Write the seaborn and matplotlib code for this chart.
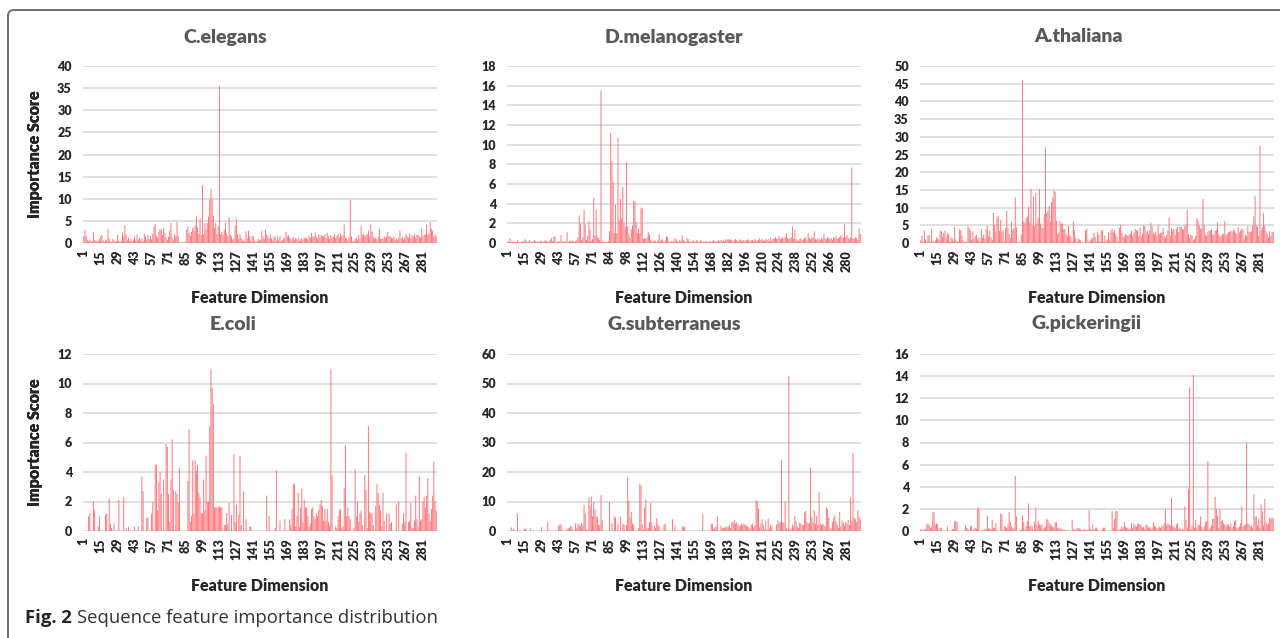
import numpy as np
import pandas as pd
import matplotlib.pyplot as plt
import seaborn as sns
from matplotlib.patches import FancyBboxPatch

# species shown in each panel (row by row)
titles = ["C.elegans", "D.melanogaster", "A.thaliana",
          "E.coli", "G.subterraneus", "G.pickeringii"]

# importance score per feature dimension, 14 dimensions per line
celegans = [
    1.5, 2.9, 1.6, 0.6, 0.4, 0.8, 0.5, 0.3, 2.4, 0.7, 0.4, 0.6, 0.5, 0.9,
    1.5, 1.8, 0.6, 0.3, 0.8, 0.5, 3.1, 1.0, 0.4, 0.2, 0.9, 0.6, 0.3, 0.5,
    1.9, 0.5, 0.3, 0.4, 2.3, 1.5, 4.0, 1.8, 0.6, 1.2, 0.5, 0.9, 0.4, 0.8,
    1.5, 0.6, 1.9, 0.8, 1.2, 0.5, 1.0, 0.4, 2.0, 1.4, 0.6, 1.8, 0.9, 1.6,
    0.8, 2.0, 3.7, 4.2, 1.6, 1.2, 2.5, 3.2, 3.0, 1.8, 3.4, 2.2, 1.3, 0.7,
    1.4, 2.8, 4.5, 1.2, 0.6, 2.0, 1.5, 4.8, 1.7, 0.1, 0.1, 0.2, 0.1, 0.1,
    0.2, 3.0, 3.8, 2.2, 1.6, 2.5, 3.5, 2.8, 4.0, 6.0, 3.5, 2.0, 5.5, 1.8,
    13.0, 2.0, 4.5, 3.0, 4.5, 6.0, 9.8, 12.3, 10.0, 6.2, 3.5, 4.5, 2.0, 3.8,
    35.5, 2.0, 2.5, 1.8, 3.0, 4.5, 2.2, 1.5, 5.8, 1.8, 1.5, 0.8, 1.2, 4.0,
    5.5, 2.0, 1.0, 2.0, 1.2, 0.5, 0.8, 0.4, 2.7, 1.0, 2.8, 1.5, 0.6, 1.6,
    1.5, 0.5, 0.2, 0.4, 1.0, 0.6, 0.8, 2.8, 1.5, 1.0, 3.0, 2.0, 1.5, 1.0,
    2.0, 1.0, 0.6, 1.5, 1.2, 0.5, 1.5, 0.8, 1.6, 0.4, 0.7, 1.2, 0.9, 2.5,
    1.5, 1.8, 1.2, 0.8, 1.0, 1.4, 0.6, 1.2, 0.8, 1.3, 0.5, 0.9, 1.1, 0.7,
    1.2, 1.0, 1.3, 0.9, 1.6, 1.2, 2.3, 1.4, 1.5, 2.3, 1.5, 1.0, 2.0, 1.2,
    1.8, 1.6, 1.5, 2.0, 1.2, 2.3, 1.5, 0.9, 1.8, 1.2, 1.5, 2.0, 1.1, 1.6,
    2.0, 1.3, 2.2, 1.5, 1.8, 4.2, 1.2, 1.0, 0.6, 1.4, 9.8, 1.5, 0.5, 0.3,
    1.0, 1.2, 0.6, 1.8, 1.0, 3.8, 1.8, 2.0, 1.6, 1.8, 2.0, 2.8, 1.5, 4.2,
    2.5, 1.5, 1.0, 1.2, 0.8, 1.4, 3.2, 1.0, 0.9, 1.0, 1.5, 1.2, 1.6, 2.5,
    1.5, 1.5, 1.2, 1.0, 1.4, 0.8, 1.0, 0.6, 1.2, 2.8, 1.0, 1.5, 0.8, 1.2,
    2.0, 1.5, 1.2, 2.2, 1.0, 1.8, 1.5, 2.0, 1.2, 1.8, 1.8, 1.5, 1.2, 3.3,
    1.5, 1.8, 2.0, 4.2, 1.8, 2.2, 4.7, 3.2, 2.8, 1.5, 2.0, 1.5,
]

dmelanogaster = [
    0.1, 0.2, 0.5, 0.1, 0.1, 0.2, 0.1, 0.1, 0.3, 0.1, 0.1, 0.1, 0.2, 0.1,
    0.4, 0.3, 0.1, 0.1, 0.3, 0.1, 0.2, 0.1, 0.3, 0.2, 0.1, 0.2, 0.1, 0.2,
    0.2, 0.1, 0.2, 0.3, 0.2, 0.1, 0.2, 0.3, 0.5, 0.2, 0.6, 0.7, 0.1, 0.2,
    0.1, 0.2, 0.8, 0.1, 0.2, 0.1, 0.2, 1.1, 0.1, 0.2, 0.2, 0.3, 0.2, 0.1,
    0.2, 0.3, 0.6, 2.8, 1.9, 0.3, 0.5, 3.4, 1.9, 0.3, 0.7, 2.2, 1.3, 0.2,
    0.4, 4.6, 0.8, 3.4, 0.6, 0.5, 0.3, 15.5, 0.2, 0.1, 0.1, 0.1, 0.1, 0.2,
    1.2, 11.2, 8.3, 6.2, 1.0, 3.9, 1.0, 10.7, 2.3, 4.5, 2.5, 5.7, 2.0, 1.6,
    8.2, 1.7, 0.9, 0.5, 1.4, 1.8, 4.3, 4.2, 2.1, 1.0, 1.5, 1.0, 3.6, 3.5,
    0.4, 0.5, 0.4, 0.6, 1.1, 0.9, 0.3, 0.2, 0.1, 0.3, 0.2, 0.1, 0.3, 0.9,
    0.2, 0.3, 0.4, 0.1, 0.3, 0.7, 0.6, 0.2, 0.1, 0.2, 0.1, 0.2, 0.5, 0.4,
    0.2, 0.1, 0.3, 0.2, 0.8, 0.3, 0.2, 0.1, 0.5, 0.4, 0.1, 0.2, 0.1, 0.3,
    0.2, 0.1, 0.3, 0.2, 0.1, 0.3, 0.2, 0.1, 0.2, 0.1, 0.2, 0.1, 0.2, 0.2,
    0.1, 0.2, 0.3, 0.2, 0.1, 0.2, 0.3, 0.2, 0.3, 0.2, 0.3, 0.2, 0.4, 0.3,
    0.4, 0.3, 0.4, 0.3, 0.2, 0.3, 0.4, 0.3, 0.2, 0.3, 0.4, 0.2, 0.3, 0.3,
    0.2, 0.3, 0.4, 0.3, 0.2, 0.3, 0.3, 0.2, 0.4, 0.3, 0.2, 0.3, 0.5, 0.3,
    0.4, 0.3, 0.2, 0.4, 0.3, 0.4, 0.2, 0.5, 0.3, 0.4, 0.5, 0.6, 0.4, 0.5,
    0.7, 0.4, 0.5, 0.6, 0.4, 0.6, 1.0, 0.5, 0.4, 0.5, 0.6, 1.7, 0.4, 1.3,
    0.4, 0.3, 0.2, 0.4, 0.5, 0.3, 0.4, 0.5, 0.6, 0.3, 1.0, 0.5, 0.4, 0.6,
    0.5, 1.2, 0.4, 0.3, 0.5, 0.4, 0.3, 0.5, 0.4, 0.9, 0.5, 0.4, 0.6, 0.5,
    0.4, 0.5, 0.3, 0.6, 0.5, 0.7, 0.4, 0.5, 0.6, 0.8, 0.6, 0.5, 1.9, 0.6,
    0.8, 0.5, 0.4, 0.6, 7.7, 0.5, 0.4, 0.6, 0.5, 0.3, 1.5, 0.9,
]

athaliana = [
    0.8, 2.0, 0.5, 3.5, 1.0, 0.3, 2.2, 2.2, 0.3, 4.0, 0.5, 0.3, 0.8, 1.5,
    1.2, 1.0, 3.6, 3.3, 1.8, 2.8, 3.4, 1.5, 2.8, 2.5, 0.5, 1.6, 1.4, 0.6,
    4.5, 1.0, 0.5, 0.3, 3.8, 3.6, 2.1, 0.8, 0.2, 0.3, 0.4, 4.8, 4.2, 3.5,
    0.8, 3.3, 1.2, 2.0, 2.3, 1.0, 1.5, 0.5, 4.0, 1.5, 2.3, 1.2, 3.8, 4.8,
    2.0, 3.5, 1.5, 0.8, 8.5, 5.0, 3.0, 7.2, 7.6, 3.5, 6.5, 3.0, 3.6, 0.5,
    4.2, 9.1, 4.3, 2.5, 1.5, 6.0, 3.8, 4.2, 12.8, 4.5, 0.2, 0.1, 0.1, 2.4,
    46.0, 6.0, 5.8, 7.0, 7.5, 10.2, 5.8, 15.3, 5.0, 13.2, 4.7, 14.2, 5.6, 7.2,
    15.2, 5.5, 4.4, 4.2, 8.0, 27.0, 8.5, 9.0, 10.4, 6.0, 11.5, 12.8, 14.8, 14.5,
    6.3, 2.5, 3.0, 6.2, 5.4, 5.6, 3.8, 4.0, 2.5, 2.0, 4.8, 2.3, 1.8, 0.5,
    6.0, 3.7, 1.5, 0.4, 1.2, 1.0, 0.8, 0.2, 0.1, 0.1, 3.5, 4.0, 1.0, 0.2,
    0.8, 1.3, 1.5, 2.9, 1.8, 0.4, 3.2, 2.3, 0.5, 3.5, 3.6, 0.3, 2.1, 0.6,
    1.0, 3.0, 0.8, 3.5, 4.0, 3.0, 3.6, 2.5, 1.8, 0.5, 4.3, 5.2, 3.0, 2.0,
    1.8, 2.5, 2.3, 2.0, 2.4, 2.6, 3.5, 2.0, 3.0, 4.0, 3.6, 3.5, 2.0, 4.3,
    1.8, 2.5, 5.0, 4.8, 3.0, 3.5, 2.5, 3.6, 5.8, 4.8, 3.0, 2.5, 3.2, 2.0,
    5.2, 2.5, 2.8, 3.0, 4.2, 2.0, 1.5, 2.2, 3.5, 7.2, 2.0, 4.2, 3.5, 4.0,
    2.3, 4.0, 4.5, 3.0, 4.7, 4.5, 4.0, 3.8, 4.8, 5.3, 9.4, 2.5, 1.5, 2.3,
    2.0, 0.8, 1.2, 2.0, 7.0, 6.2, 5.0, 4.0, 4.3, 12.5, 5.0, 2.3, 2.0, 3.0,
    3.5, 3.6, 3.8, 2.5, 2.3, 3.5, 3.8, 5.8, 2.5, 1.8, 2.0, 2.6, 2.5, 6.2,
    2.3, 2.6, 3.0, 3.2, 3.5, 3.0, 3.8, 3.5, 2.8, 2.5, 4.5, 3.0, 3.5, 4.0,
    3.8, 1.0, 2.3, 2.0, 4.8, 3.0, 3.2, 3.3, 5.0, 7.5, 13.3, 5.0, 4.5, 2.0,
    27.5, 3.5, 4.5, 8.5, 5.0, 3.3, 2.5, 1.5, 3.3, 2.0, 3.0, 3.2,
]

ecoli = [
    0.0, 0.0, 0.0, 0.0, 1.0, 1.2, 0.0, 0.0, 2.0, 1.4, 0.0, 0.0, 0.3, 1.0,
    0.0, 0.0, 0.0, 0.0, 1.1, 1.2, 0.0, 2.2, 0.5, 0.2, 0.0, 0.5, 0.0, 0.0,
    0.0, 2.1, 0.0, 0.0, 0.0, 2.3, 0.0, 0.2, 0.0, 0.3, 0.0, 0.0, 0.0, 0.0,
    0.3, 0.0, 0.0, 0.3, 0.0, 0.0, 3.7, 2.7, 0.0, 0.0, 0.9, 0.9, 0.0, 0.0,
    1.2, 2.0, 0.0, 4.5, 4.5, 1.4, 3.3, 4.0, 2.5, 0.0, 3.5, 0.0, 5.9, 5.7,
    2.5, 0.6, 3.5, 6.2, 2.8, 0.0, 2.7, 2.5, 1.9, 4.3, 0.0, 0.0, 0.0, 0.0,
    0.0, 0.0, 3.4, 6.9, 0.6, 1.0, 4.8, 1.2, 4.8, 4.1, 4.5, 2.6, 2.3, 1.2,
    1.2, 3.5, 1.4, 5.1, 2.0, 2.0, 7.1, 11.0, 9.7, 8.6, 1.6, 1.6, 1.6, 1.6,
    1.7, 1.6, 1.6, 0.0, 0.4, 0.4, 1.2, 0.5, 1.9, 0.0, 1.1, 0.0, 5.2, 0.6,
    1.8, 0.0, 1.1, 5.1, 0.4, 0.0, 2.7, 0.0, 0.8, 0.0, 0.0, 0.3, 0.3, 0.0,
    0.0, 0.0, 0.0, 0.0, 0.0, 0.0, 0.0, 0.0, 0.0, 0.0, 0.0, 2.4, 0.0, 1.0,
    0.0, 0.0, 0.0, 0.0, 0.2, 4.1, 0.0, 0.0, 0.7, 0.0, 0.0, 0.0, 0.8, 0.0,
    0.0, 0.0, 0.8, 0.4, 1.5, 3.2, 3.2, 0.3, 1.0, 2.6, 0.3, 1.6, 2.9, 0.6,
    2.1, 1.6, 1.6, 1.0, 0.3, 0.5, 1.5, 1.6, 1.0, 0.8, 1.2, 1.0, 1.4, 1.8,
    2.1, 1.7, 0.7, 1.5, 0.7, 1.5, 0.6, 0.4, 11.0, 3.8, 0.0, 0.0, 0.3, 0.2,
    1.0, 1.4, 1.5, 0.2, 0.3, 2.9, 5.8, 1.0, 1.6, 1.0, 0.8, 0.0, 0.0, 0.2,
    4.2, 1.0, 2.0, 0.6, 1.2, 1.4, 0.4, 0.0, 3.8, 2.8, 0.2, 7.1, 1.3, 1.2,
    1.2, 0.4, 0.0, 1.7, 3.2, 2.6, 1.8, 1.4, 0.3, 2.6, 0.7, 0.0, 1.2, 0.0,
    1.2, 0.5, 0.6, 0.0, 0.0, 0.0, 1.8, 0.0, 2.0, 0.0, 0.0, 0.5, 1.2, 0.6,
    5.3, 0.0, 0.6, 0.7, 1.9, 0.2, 0.2, 0.7, 2.4, 0.8, 0.3, 3.7, 0.7, 0.8,
    2.0, 2.3, 1.6, 2.4, 3.6, 1.2, 0.7, 1.5, 2.4, 4.7, 2.0, 1.4,
]

gsubterraneus = [
    0.0, 0.0, 0.0, 1.2, 0.2, 0.8, 0.0, 0.0, 5.8, 0.0, 0.0, 0.0, 0.0, 0.0,
    0.8, 0.8, 0.0, 0.0, 0.0, 0.9, 0.0, 0.0, 0.0, 0.0, 0.0, 0.0, 0.0, 0.0,
    1.3, 0.0, 0.0, 0.0, 0.0, 3.0, 0.0, 0.0, 0.0, 0.0, 0.0, 0.0, 0.0, 0.0,
    1.8, 2.2, 2.2, 0.4, 0.0, 0.0, 0.0, 0.8, 0.9, 1.2, 1.8, 1.5, 0.2, 0.0,
    2.5, 1.0, 2.6, 2.0, 1.5, 2.7, 2.0, 8.8, 6.0, 0.5, 0.3, 11.3, 8.5, 11.5,
    5.0, 9.8, 7.5, 5.0, 4.8, 2.0, 2.0, 12.2, 3.6, 0.0, 0.0, 0.0, 0.0, 0.0,
    9.8, 0.0, 2.6, 0.0, 5.0, 4.5, 0.0, 2.5, 0.0, 4.8, 0.0, 2.5, 2.2, 0.2,
    2.0, 18.2, 10.2, 4.5, 6.5, 2.5, 2.2, 0.0, 0.0, 0.0, 1.0, 16.0, 15.5, 2.2,
    0.5, 8.0, 10.8, 1.0, 1.0, 3.0, 9.5, 2.8, 0.0, 1.8, 1.0, 4.3, 2.5, 1.6,
    0.0, 0.0, 0.0, 2.2, 2.5, 0.0, 0.0, 0.0, 0.0, 0.0, 4.0, 0.0, 1.7, 0.0,
    0.0, 0.0, 0.0, 0.0, 1.7, 1.2, 1.5, 0.0, 0.0, 0.0, 0.0, 0.0, 0.0, 0.0,
    0.0, 0.0, 0.0, 0.0, 0.0, 0.0, 0.0, 5.8, 0.0, 0.0, 0.0, 0.0, 0.0, 0.0,
    2.5, 2.3, 0.8, 1.2, 1.5, 5.0, 0.0, 0.0, 1.8, 1.0, 1.2, 1.0, 1.5, 1.2,
    1.5, 2.0, 1.0, 2.8, 3.0, 3.8, 2.5, 3.0, 2.2, 1.5, 2.0, 2.5, 2.0, 2.5,
    2.2, 1.8, 1.5, 1.2, 0.8, 2.2, 2.5, 1.2, 2.0, 10.5, 10.0, 7.5, 1.2, 2.5,
    4.0, 1.8, 0.5, 3.5, 0.5, 4.2, 0.8, 2.2, 1.5, 0.0, 0.0, 0.0, 2.2, 3.5,
    2.8, 3.0, 24.0, 3.0, 2.8, 10.0, 1.0, 0.3, 52.5, 0.8, 0.5, 2.2, 1.5, 5.0,
    3.4, 1.5, 1.0, 2.8, 2.5, 2.0, 2.0, 6.2, 6.8, 3.0, 2.5, 2.8, 21.5, 4.8,
    3.0, 7.0, 2.5, 5.2, 2.0, 13.2, 2.5, 2.0, 2.5, 2.0, 1.5, 8.0, 7.5, 4.5,
    1.0, 0.8, 3.0, 4.5, 5.3, 3.2, 2.0, 1.0, 6.5, 1.5, 3.5, 2.8, 1.8, 3.0,
    2.5, 3.8, 2.0, 11.2, 3.5, 26.5, 4.5, 4.0, 3.0, 7.0, 5.0, 3.8,
]

gpickeringii = [
    0.2, 0.1, 0.1, 0.1, 0.2, 0.6, 0.7, 0.5, 0.3, 0.4, 1.7, 1.7, 0.6, 0.7,
    0.6, 0.1, 0.3, 0.3, 0.0, 0.0, 0.0, 0.0, 0.4, 0.0, 0.0, 0.0, 0.2, 0.2,
    0.9, 0.9, 0.8, 0.0, 0.0, 0.0, 0.0, 0.0, 0.0, 0.5, 0.3, 0.2, 0.0, 0.4,
    0.5, 0.0, 0.2, 0.3, 0.2, 2.1, 2.1, 0.0, 0.0, 0.1, 0.1, 0.2, 0.2, 1.4,
    0.3, 0.2, 0.2, 1.0, 0.3, 0.3, 0.7, 0.1, 0.0, 0.0, 1.6, 1.5, 0.0, 0.4,
    0.4, 0.3, 0.6, 1.7, 0.8, 0.4, 0.2, 0.3, 5.0, 1.3, 0.0, 0.0, 0.1, 0.1,
    1.4, 0.8, 0.1, 0.5, 0.9, 2.5, 0.4, 0.5, 0.4, 0.1, 0.8, 2.1, 0.5, 0.9,
    0.6, 0.5, 0.6, 0.2, 0.3, 0.4, 1.1, 1.0, 0.7, 0.6, 0.5, 0.4, 0.3, 0.8,
    0.8, 0.3, 0.2, 0.3, 0.2, 0.1, 0.1, 0.1, 0.1, 0.0, 0.1, 0.0, 0.0, 1.0,
    0.2, 0.1, 0.1, 0.3, 0.3, 0.2, 0.2, 0.1, 0.1, 0.2, 0.1, 0.1, 0.1, 1.9,
    0.2, 0.1, 0.6, 0.1, 0.3, 0.3, 0.1, 0.0, 0.0, 0.0, 0.2, 0.3, 0.3, 0.0,
    0.0, 0.0, 0.0, 0.0, 1.8, 0.3, 1.1, 1.8, 1.8, 0.1, 0.1, 0.2, 0.4, 0.3,
    0.8, 0.4, 0.3, 0.3, 0.1, 0.2, 0.7, 0.3, 0.7, 0.5, 0.4, 0.6, 0.7, 0.6,
    0.5, 0.3, 0.4, 0.2, 0.6, 0.5, 0.3, 0.4, 0.2, 0.3, 0.8, 0.5, 0.4, 0.3,
    0.2, 0.4, 0.3, 0.5, 0.4, 0.7, 2.0, 0.5, 0.7, 0.6, 0.5, 3.0, 0.5, 0.4,
    0.3, 0.6, 0.7, 0.2, 0.3, 0.1, 0.2, 0.1, 2.2, 1.0, 0.3, 3.8, 13.0, 0.2,
    0.5, 14.1, 0.3, 1.0, 0.3, 0.6, 0.5, 1.3, 0.4, 0.2, 0.4, 0.8, 0.9, 6.3,
    0.2, 0.3, 0.5, 1.1, 1.1, 3.1, 2.0, 1.4, 0.3, 2.0, 0.9, 1.0, 0.7, 0.6,
    0.5, 0.6, 0.6, 0.4, 0.7, 0.3, 0.5, 0.9, 1.0, 0.3, 0.3, 0.4, 0.7, 2.2,
    0.4, 0.5, 0.6, 8.0, 0.7, 0.6, 0.4, 0.5, 0.3, 3.3, 1.3, 1.3, 0.5, 1.1,
    0.3, 2.4, 1.8, 0.5, 2.9, 0.8, 0.6, 0.7, 1.2, 1.1, 1.2, 1.1,
]

# category labels Excel printed on the x axes (every 14th dimension)
xlabels_std = [1, 15, 29, 43, 57, 71, 85, 99, 113, 127, 141, 155, 169, 183,
               197, 211, 225, 239, 253, 267, 281]
xlabels_dmel = [1, 15, 29, 43, 57, 71, 84, 98, 112, 126, 140, 154, 168, 182,
                196, 210, 224, 238, 252, 266, 280]

y_max = [40, 18, 50, 12, 60, 16]
y_step = [5, 2, 5, 2, 10, 2]

series = [celegans, dmelanogaster, athaliana, ecoli, gsubterraneus, gpickeringii]
xlabels = [xlabels_std, xlabels_dmel, xlabels_std, xlabels_std, xlabels_std, xlabels_std]

sns.set_style("white")
plt.rcParams["font.family"] = ["Lato", "DejaVu Sans"]

W, H = 1280, 638
fig = plt.figure(figsize=(W / 100, H / 100), dpi=100)

# panel geometry in pixels
lefts = [83, 507, 920]
tops = [66, 354]
aw, ah = 354, 177
title_x = [[225, 674, 1078], [233, 674, 1087]]
title_y = [37, 324]

for k, (name, vals) in enumerate(zip(titles, series)):
    r, c = divmod(k, 3)
    ax = fig.add_axes([lefts[c] / W, 1 - (tops[r] + ah) / H, aw / W, ah / H])
    df = pd.DataFrame({"dim": np.arange(1, len(vals) + 1), "score": vals})
    sns.barplot(data=df, x="dim", y="score", color="#ff767c", saturation=1,
                width=0.8, linewidth=0, errorbar=None, ax=ax)
    for p in ax.patches:
        p.set_snap(False)
    n = len(vals)
    ax.set_xlim(-0.6, n - 0.4)
    ax.set_ylim(0, y_max[k])
    ax.set_yticks(np.arange(0, y_max[k] + 1, y_step[k]))
    ax.set_xticks(range(0, n, 14))
    ax.set_xticklabels(xlabels[k], rotation=90)
    ax.grid(axis="y", color="#d9d9d9", lw=1.2)
    ax.set_axisbelow(True)
    sns.despine(ax=ax, left=True, bottom=True)
    ax.tick_params(axis="y", length=0, pad=8, labelsize=9)
    ax.tick_params(axis="x", length=0, pad=5, labelsize=9)
    for t in ax.get_xticklabels() + ax.get_yticklabels():
        t.set_fontweight("heavy")

    ax.set_xlabel("Feature Dimension", fontsize=11.5, fontweight="heavy")
    ax.set_ylabel("Importance Score", fontsize=11.5, fontweight="heavy")
    ax.xaxis.label.set_va("center")
    ax.yaxis.label.set_va("center")
    ax.xaxis.set_label_coords(0.5, -55 / ah)
    ax.yaxis.set_label_coords(-(lefts[c] - 35) / aw, 0.5)

    fig.text(title_x[r][c] / W, 1 - title_y[r] / H, name, ha="center", va="center",
             fontsize=14, fontweight="heavy", color="#595959")

# outer frame with a rounded corner
frame = FancyBboxPatch((0.08, -0.5), 13.5, 6.38 - 0.10 + 0.5,
                       boxstyle="round,pad=0,rounding_size=0.06",
                       transform=fig.dpi_scale_trans, fill=False,
                       edgecolor="#6f6f6f", lw=1.4)
fig.patches.append(frame)

# caption
cap1 = fig.text(25 / W, 1 - 618 / H, "Fig. 2", ha="left", va="center",
                fontsize=13.3, fontweight="bold", family=["Open Sans", "DejaVu Sans"])
renderer = fig.canvas.get_renderer()
bb = cap1.get_window_extent(renderer)
fig.text((bb.x1 + 5) / W, 1 - 618 / H, "Sequence feature importance distribution",
         ha="left", va="center", fontsize=13.3, family=["Open Sans", "DejaVu Sans"],
         color="#333333")

fig.savefig("out.png", dpi=100)
